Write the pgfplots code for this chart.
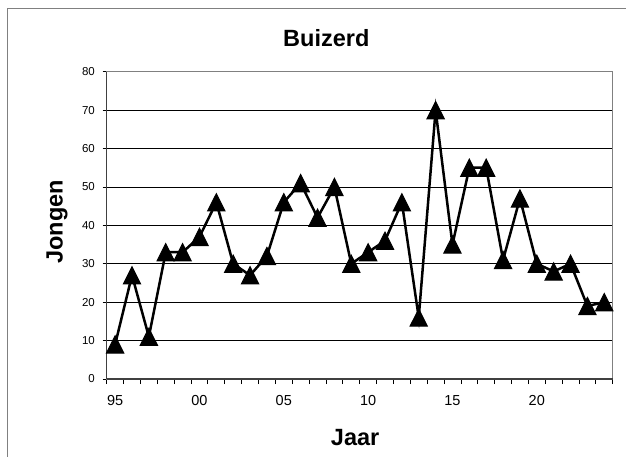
\documentclass[border=0pt]{standalone}
\usepackage{fontspec}
\setmainfont{Liberation Sans}
\usepackage{pgfplots}
\pgfplotsset{compat=1.18}
\begin{document}
\begin{tikzpicture}
\path[use as bounding box] (0,0) rectangle (626bp,-457bp);
\draw[color=gray, line width=1bp] (7bp,-470bp) -- (7bp,-8bp) -- (640bp,-8bp);
\begin{axis}[
  at={(106.7bp,-379bp)}, anchor=south west,
  scale only axis, width=506bp, height=307.3bp,
  xmin=1994.5, xmax=2024.5, ymin=0, ymax=80,
  xtick={1995,2000,2005,2010,2015,2020},
  xticklabels={95,00,05,10,15,20},
  minor xtick={1994.5,1995.5,...,2024.5},
  major x tick style={draw=none},
  ytick={0,10,...,80},
  tick align=outside, tick pos=left,
  major tick length=4bp, minor tick length=5bp,
  tick style={black, line width=0.8bp},
  ymajorgrids, grid style={black, line width=0.8bp},
  axis line style={gray, line width=1.5bp},
  /pgf/number format/assume math mode=true,
  yticklabel style={font=\fontsize{11.5bp}{14bp}\selectfont, anchor=east, inner sep=0pt, xshift=-7.7bp},
  xticklabel style={font=\fontsize{14.5bp}{17bp}\selectfont, anchor=north, inner sep=0pt, yshift=-12bp},
  title={Buizerd},
  title style={font=\fontsize{23.5bp}{28bp}\selectfont\bfseries, anchor=base, at={(axis description cs:0.434,1.064)}},
  xlabel={Jaar},
  xlabel style={font=\fontsize{23.5bp}{28bp}\selectfont\bfseries, anchor=base, at={(axis description cs:0.491,-0.2148)}},
  ylabel={Jongen},
  ylabel style={font=\fontsize{23.5bp}{28bp}\selectfont\bfseries, rotate=0, anchor=base, at={(axis description cs:-0.0873,0.511)}},
  clip=false,
]
\draw[black!75, line width=1.5bp] (axis cs:1994.5,0) -- (axis cs:1994.5,80);
\draw[black!75, line width=1.5bp] (axis cs:1994.5,0) -- (axis cs:2024.5,0);
\addplot[black, line width=2.5bp, mark=triangle*, mark size=10bp,
  mark options={solid, fill=black, line width=1bp, yshift=-2.9bp, yscale=1.15}] coordinates {
(1995,9) (1996,27) (1997,11) (1998,33) (1999,33) (2000,37) (2001,46) (2002,30)
(2003,27) (2004,32) (2005,46) (2006,51) (2007,42) (2008,50) (2009,30) (2010,33)
(2011,36) (2012,46) (2013,16) (2014,70) (2015,35) (2016,55) (2017,55) (2018,31)
(2019,47) (2020,30) (2021,28) (2022,30) (2023,19) (2024,20)
};
\end{axis}
\end{tikzpicture}
\end{document}
